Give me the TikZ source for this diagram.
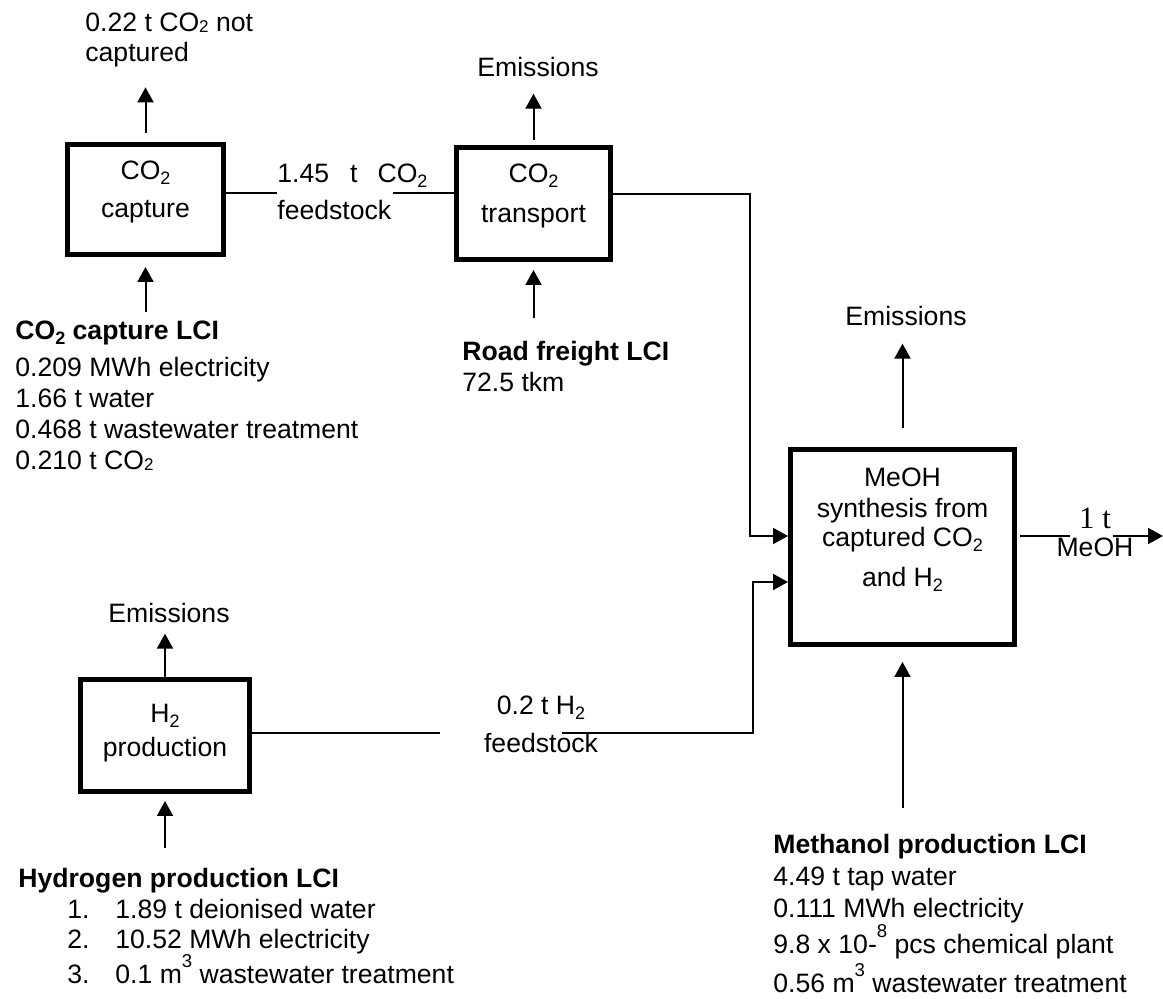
\documentclass[tikz,border=0pt]{standalone}
\usepackage{fontspec}
\setmainfont{Liberation Sans}
\newfontfamily\serifft{Liberation Serif}
\usetikzlibrary{arrows.meta,positioning}
\newcommand{\chemsub}[1]{\raisebox{-2.5pt}[0pt][0pt]{\fontsize{9pt}{9pt}\selectfont #1}}
\newcommand{\lowtwo}{\raisebox{-0.5pt}[0pt][0pt]{\fontsize{8.5pt}{8.5pt}\selectfont 2}}
\newcommand{\supnum}[1]{\raisebox{8pt}[0pt][0pt]{\fontsize{9.3pt}{9pt}\selectfont #1}}

\begin{document}
\begin{tikzpicture}[
  x=0.5pt, y=-0.5pt,
  font=\fontsize{13.3pt}{15.5pt}\selectfont,
  box/.style={draw, line width=2.5pt, inner sep=0pt},
  boxtxt/.style={inner sep=0pt, align=center, anchor=north},
  txt/.style={inner sep=0pt, align=left, anchor=north west},
  em/.style={inner sep=0pt, anchor=base},
  flow/.style={line width=1pt},
  arr/.style={-{Triangle[length=7.5pt, width=8pt]}, line width=1pt}
]
\useasboundingbox (0,0) rectangle (1163,999);

% process boxes
\node[box, minimum width=78pt, minimum height=55pt] (cap) at (145.5,199.5) {};
\node[box, minimum width=77pt, minimum height=56pt] (trn) at (533.5,203.5) {};
\node[box, minimum width=84.5pt, minimum height=56pt] (hyd) at (165,735.5) {};
\node[box, minimum width=112pt, minimum height=97.5pt] (meoh) at (902.5,547) {};

\node[boxtxt] (cap-txt) at ([yshift=-9.25pt]cap.north) {CO\chemsub{2}\\[3.5pt]capture};
\node[boxtxt] (trn-txt) at ([yshift=-9.25pt]trn.north) {CO\chemsub{2}\\[4.5pt]transport};
\node[boxtxt] (hyd-txt) at ([yshift=-13.25pt]hyd.north) {H\chemsub{2}\\[1.5pt]production};
\node[boxtxt] (meoh-txt) at ([yshift=-10.25pt]meoh.north)
  {MeOH\\synthesis from\\[-1pt]captured CO\chemsub{2}\\[4.5pt]and H\chemsub{2}};

% outputs
\node[txt] (notcap) at (85,12.5) {0.22 t CO\lowtwo{} not\\[-0.5pt]captured};
\node[em] (trn-em) at (538,76.5) {Emissions};
\node[em] (meoh-em) at (906,325.5) {Emissions};
\node[em] (hyd-em) at (169,622.5) {Emissions};

% flow labels
\node[txt] (capfeed) at (277,163.5) {1.45\hspace{10.5pt}t\hspace{10pt}CO\chemsub{2}\\[3pt]feedstock};
\node[boxtxt] (h2feed) at (541,695.5) {0.2 t H\chemsub{2}\\[3.5pt]feedstock};
\node[boxtxt] (outlbl) at (1095,508) {{\serifft\fontsize{15.5pt}{15.5pt}\selectfont 1 t}\\[-1.5pt]MeOH};

% inventories
\node[txt] (caplci) at (15,320.5) {\textbf{CO\chemsub{2} capture LCI}\\[3pt]0.209 MWh electricity\\1.66 t water\\0.468 t wastewater treatment\\0.210 t CO\lowtwo};
\node[txt] (trnlci) at (462,340.5) {\textbf{Road freight LCI}\\72.5 tkm};
\node[txt] (hydlci) at (18,867.5) {\textbf{Hydrogen production LCI}\\
  \hspace*{24.5pt}\makebox[24pt][l]{1.}1.89 t deionised water\\[-0.5pt]
  \hspace*{24.5pt}\makebox[24pt][l]{2.}10.52 MWh electricity\\[2pt]
  \hspace*{24.5pt}\makebox[24pt][l]{3.}0.1 m\supnum{3} wastewater treatment};
\node[txt] (meohlci) at (773,833.5) {\textbf{Methanol production LCI}\\[0.5pt]4.49 t tap water\\[0.5pt]0.111 MWh electricity\\[2.5pt]9.8 x 10-\supnum{8} pcs chemical plant\\[4pt]0.56 m\supnum{3} wastewater treatment};

\coordinate (cap-gapL) at (277,193);
\coordinate (cap-gapR) at (393,193);
\coordinate (co2-bend) at (750,536);
\coordinate (h2-gapL) at (440,733);
\coordinate (h2-gapR) at (562,733);
\coordinate (h2-bend) at (753,582);
\coordinate (out-gapL) at (1070,536);
\coordinate (out-gapR) at (1113,536);
\coordinate (out-end) at (1163,536);

\draw[arr, shorten <=4.5pt, shorten >=10pt] (cap.north) -- (cap.north |- notcap.south);
\draw[arr, shorten <=2.5pt, shorten >=8.25pt] (trn.north) -- (trn.north |- trn-em.south);
\draw[arr, shorten >=5.25pt] (hyd.north) -- (hyd.north |- hyd-em.south);
\draw[arr, shorten <=9.5pt, shorten >=8.75pt] (meoh.north) -- (meoh.north |- meoh-em.south);

\draw[arr, shorten <=4.25pt, shorten >=5pt] (cap.south |- caplci.north) -- (cap.south);
\draw[arr, shorten <=11.25pt, shorten >=4pt] (trn.south |- trnlci.north) -- (trn.south);
\draw[arr, shorten <=9.75pt, shorten >=3.5pt] (hyd.south |- hydlci.north) -- (hyd.south);
\draw[arr, shorten <=12.75pt, shorten >=7.5pt] (meoh.south |- meohlci.north) -- (meoh.south);

\draw[flow] ([yshift=3.25pt]cap.east) -- (cap-gapL);
\draw[flow] (cap-gapR) -- (cap-gapR -| trn.west);
\draw[arr] ([yshift=4.75pt]trn.east) -| (co2-bend) -- (co2-bend -| meoh.west);
\draw[flow] ([yshift=1.25pt]hyd.east) -- (h2-gapL);
\draw[arr] (h2-gapR) -| (h2-bend) -- (h2-bend -| meoh.west);
\draw[flow, shorten <=1.5pt] ([yshift=5.5pt]meoh.east) -- (out-gapL);
\draw[arr] (out-gapR) -- (out-end);
\end{tikzpicture}
\end{document}
